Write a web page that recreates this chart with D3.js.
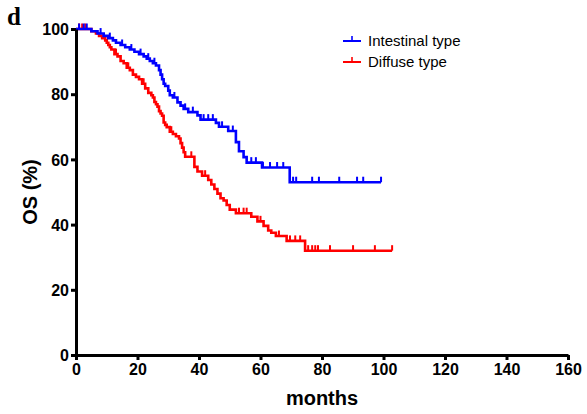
<!DOCTYPE html>
<html>
<head>
<meta charset="utf-8">
<script src="https://cdn.jsdelivr.net/npm/d3@7"></script>
<style>
  body { margin: 0; background: #fff; }
  text { font-family: "Liberation Sans", Arial, sans-serif; }
</style>
</head>
<body>
<div id="chart"></div>
<script>
// Intestinal type: event times (months) and survival (%)
const intestinalTimes = [0,5,7,9,10.5,12,13,14.5,16,17.5,19,20.5,22,23,24,25,26,27,27.5,28,28.5,29,30,30.5,31.5,33,34,35,36.5,39.5,40.5,45.5,46.5,49.5,52,53,54.5,55.5,60.5,69.5];
const intestinalSurv  = [100,99.3,98.6,97.9,97.2,96.5,95.8,95.1,94.4,93.7,93.0,92.3,91.6,90.9,90.2,89.5,88.8,87.4,86.0,84.6,83.2,82.5,81.1,79.7,79.0,77.5,76.5,75.5,74.5,73.5,72.2,71.2,70.0,68.7,65.3,62.5,60.7,59.0,57.5,53.0];
const intestinalCensor = [1,2.5,3.5,8,11,15,18,21,23.5,25.5,32,35.5,38,41.5,43,44.5,47.5,51,57,58.5,60.8,63.1,65.4,67.4,70.6,71.6,76.8,79,85.6,91.4,93.4,99.2];
const intestinalEnd = 99.2;

// Diffuse type
const diffuseTimes = [0,5,6.5,7.5,8.5,9.5,10,10.5,11,11.5,12.5,13.5,14.5,15.5,16.5,17.5,18.5,19.5,20.5,21.5,22.5,23.5,24.5,25,25.5,26,26.5,27,27.5,28,28.5,29,29.5,30.5,31.5,32.5,33.5,34,34.5,35,35.5,38.5,39.5,41,43,44,45,46,47,48,49,50,52,57,59,61,62.5,63.5,65,68.5,74.5];
const diffuseSurv  = [100,99.3,98.6,97.9,97.2,96.5,95.8,95.1,94.4,93.7,92.3,91.6,90.2,89.5,88.1,87.4,86.0,85.3,84.6,83.2,81.8,80.4,79.7,79.0,77.6,76.9,76.2,74.8,74.1,73.4,71.3,70.6,69.9,68.5,67.8,67.1,66.4,65.0,63.6,62.2,60.8,57.7,56.3,55.0,53.7,52.3,50.9,49.5,48.1,47.4,46.0,44.6,43.5,42.4,41.0,39.6,38.2,37.5,36.5,35.0,32.0];
const diffuseCensor = [1,2,3,13,17,22,31,37.5,42,53,54.5,55.5,60,66,69.6,71.3,72.9,75.5,76.8,77.8,78.7,82.6,90.1,97.2,102.8];
const diffuseEnd = 102.8;

const xTicks = [0,20,40,60,80,100,120,140,160];
const yTicks = [0,20,40,60,80,100];

const width = 587, height = 414;
const margin = { top: 29, right: 19, bottom: 59, left: 76 };

const svg = d3.select("#chart").append("svg")
    .attr("width", width)
    .attr("height", height);

const x = d3.scaleLinear().domain([0, 160]).range([margin.left, width - margin.right]);
const y = d3.scaleLinear().domain([0, 100]).range([height - margin.bottom, margin.top]);

// panel letter
svg.append("text")
    .attr("x", 7).attr("y", 25)
    .style("font-family", "'Liberation Serif', 'Times New Roman', serif")
    .style("font-weight", "bold")
    .style("font-size", "25px")
    .text("d");

const series = [
  { name: "Intestinal type", color: "#0000ff", times: intestinalTimes, surv: intestinalSurv, censor: intestinalCensor, end: intestinalEnd },
  { name: "Diffuse type", color: "#ff0000", times: diffuseTimes, surv: diffuseSurv, censor: diffuseCensor, end: diffuseEnd }
];

function survAt(s, t) {
  const i = d3.bisectRight(s.times, t) - 1;
  return s.surv[Math.max(0, i)];
}

const line = d3.line().x(d => x(d[0])).y(d => y(d[1])).curve(d3.curveStepAfter);

// draw diffuse first then intestinal on top
series.slice().reverse().forEach(s => {
  const pts = s.times.map((t, i) => [t, s.surv[i]]);
  pts.push([s.end, s.surv[s.surv.length - 1]]);
  svg.append("path")
      .datum(pts)
      .attr("fill", "none")
      .attr("stroke", s.color)
      .attr("stroke-width", 2.6)
      .attr("d", line);

  svg.append("g").selectAll("line")
    .data(s.censor)
    .join("line")
      .attr("x1", d => x(d)).attr("x2", d => x(d))
      .attr("y1", d => y(survAt(s, d)))
      .attr("y2", d => y(survAt(s, d)) - 5.5)
      .attr("stroke", s.color)
      .attr("stroke-width", 2);
});

// axes
const xAxis = svg.append("g")
    .attr("transform", `translate(0,${y(0)})`)
    .call(d3.axisBottom(x).tickValues(xTicks).tickSize(5).tickSizeOuter(0));
const yAxis = svg.append("g")
    .attr("transform", `translate(${x(0)},0)`)
    .call(d3.axisLeft(y).tickValues(yTicks).tickSize(5).tickSizeOuter(0));

[xAxis, yAxis].forEach(a => {
  a.select(".domain").attr("stroke", "#000").attr("stroke-width", 3);
  a.selectAll(".tick line").attr("stroke", "#000").attr("stroke-width", 3);
  a.selectAll(".tick text")
    .style("font-family", "'Liberation Sans', Arial, sans-serif")
    .style("font-weight", "bold")
    .style("font-size", "16px")
    .attr("fill", "#000");
});
xAxis.selectAll(".tick text").attr("dy", "0.9em").attr("y", 6);
yAxis.selectAll(".tick text").attr("x", -7).attr("dy", "0.36em");

// axis titles
svg.append("text")
    .attr("x", (x(0) + x(160)) / 2)
    .attr("y", 405)
    .attr("text-anchor", "middle")
    .style("font-weight", "bold")
    .style("font-size", "20px")
    .text("months");

svg.append("text")
    .attr("transform", `translate(37,${(y(0) + y(100)) / 2}) rotate(-90)`)
    .attr("text-anchor", "middle")
    .style("font-weight", "bold")
    .style("font-size", "20px")
    .text("OS (%)");

// legend
const legend = svg.append("g").attr("transform", "translate(343,41)");
series.forEach((s, i) => {
  const g = legend.append("g").attr("transform", `translate(0,${i * 21})`);
  g.append("line").attr("x1", 0).attr("x2", 18).attr("y1", 0).attr("y2", 0)
    .attr("stroke", s.color).attr("stroke-width", 2);
  g.append("line").attr("x1", 9).attr("x2", 9).attr("y1", 0).attr("y2", -5)
    .attr("stroke", s.color).attr("stroke-width", 1.6);
  g.append("text").attr("x", 25).attr("y", 0).attr("dy", "0.35em")
    .style("font-size", "15px")
    .text(s.name);
});
</script>
</body>
</html>
